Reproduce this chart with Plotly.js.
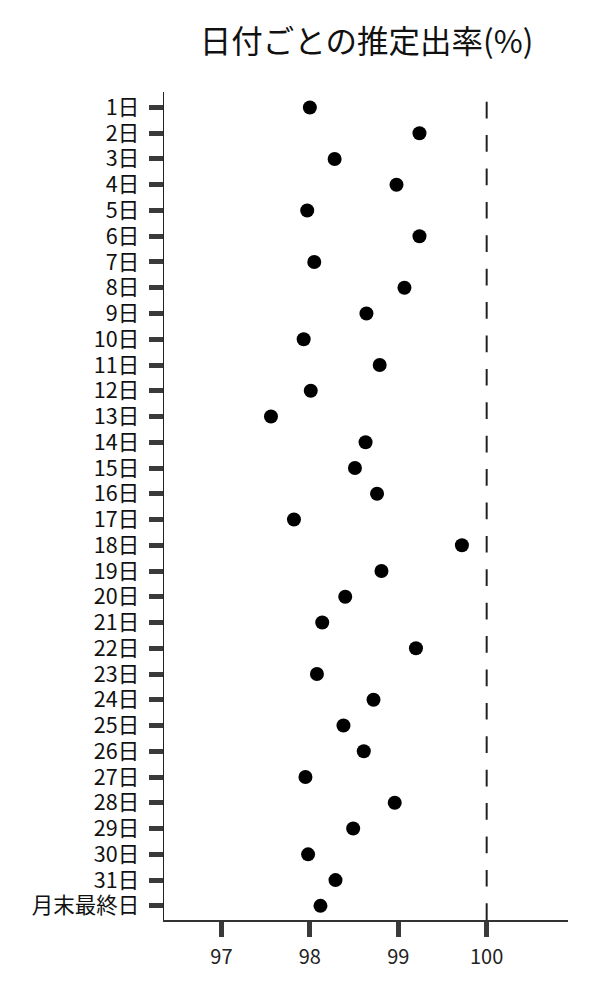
<!DOCTYPE html>
<html>
<head>
<meta charset="utf-8">
<script src="https://cdn.plot.ly/plotly-3.0.1.min.js"></script>
<style>
  html, body { margin: 0; padding: 0; background: #fff; }
  #graph { width: 600px; height: 1000px; }
</style>
</head>
<body>
<div id="graph"></div>
<script>
// categories, top to bottom
const days = [
    '1日', '2日', '3日', '4日', '5日', '6日', '7日', '8日', '9日', '10日',
    '11日', '12日', '13日', '14日', '15日', '16日', '17日', '18日', '19日', '20日',
    '21日', '22日', '23日', '24日', '25日', '26日', '27日', '28日', '29日', '30日',
    '31日', '月末最終日'
];

// estimated rate (%) per day
const rates = [
    98.00, 99.24, 98.28, 98.98, 97.97, 99.24, 98.05, 99.07, 98.64, 97.93,
    98.79, 98.01, 97.56, 98.63, 98.51, 98.76, 97.82, 99.72, 98.81, 98.40,
    98.14, 99.20, 98.08, 98.72, 98.38, 98.61, 97.95, 98.96, 98.49, 97.98,
    98.29, 98.12
];

const xTicks = [97, 98, 99, 100];
const refValue = 100;

const FONT = '"Noto Sans CJK JP", "Noto Sans", sans-serif';

const trace = {
    x: rates,
    y: days,
    type: 'scatter',
    mode: 'markers',
    marker: { size: 14, color: '#000' },
    hoverinfo: 'x+y',
    showlegend: false
};

const layout = {
    width: 600,
    height: 1000,
    margin: { l: 164, r: 32, t: 92, b: 80, pad: 0 },
    paper_bgcolor: '#fff',
    plot_bgcolor: '#fff',
    font: { family: FONT, color: '#111', size: 20 },
    title: {
        text: '日付ごとの推定出率(%)',
        font: { family: FONT, size: 31.5, color: '#111' },
        x: 0.611, xanchor: 'center',
        y: 0.958, yanchor: 'middle'
    },
    xaxis: {
        range: [96.35, 100.92],
        tickmode: 'array',
        tickvals: xTicks,
        ticktext: xTicks.map(String),
        ticks: 'outside',
        ticklen: 15,
        tickwidth: 5,
        tickcolor: '#3a3a3a',
        ticklabelstandoff: 3,
        showgrid: false,
        zeroline: false,
        showline: true,
        linecolor: '#333',
        linewidth: 1.5,
        tickfont: { family: FONT, size: 20, color: '#222' }
    },
    yaxis: {
        type: 'category',
        categoryorder: 'array',
        categoryarray: days,
        range: [31.55, -0.6],
        tickmode: 'array',
        tickvals: days,
        ticktext: days,
        ticks: 'outside',
        ticklen: 14,
        tickwidth: 5,
        tickcolor: '#3a3a3a',
        ticklabelstandoff: 5,
        showgrid: false,
        zeroline: false,
        showline: true,
        linecolor: '#222',
        linewidth: 1.5,
        tickfont: { family: FONT, size: 21.5, color: '#111' }
    },
    shapes: [{
        type: 'line',
        xref: 'x', yref: 'paper',
        x0: refValue, x1: refValue, y0: 0, y1: 1,
        line: { color: '#222', width: 2, dash: '16.7px,16.7px' }
    }]
};

Plotly.newPlot('graph', [trace], layout, { displayModeBar: false, staticPlot: true });
</script>
</body>
</html>
